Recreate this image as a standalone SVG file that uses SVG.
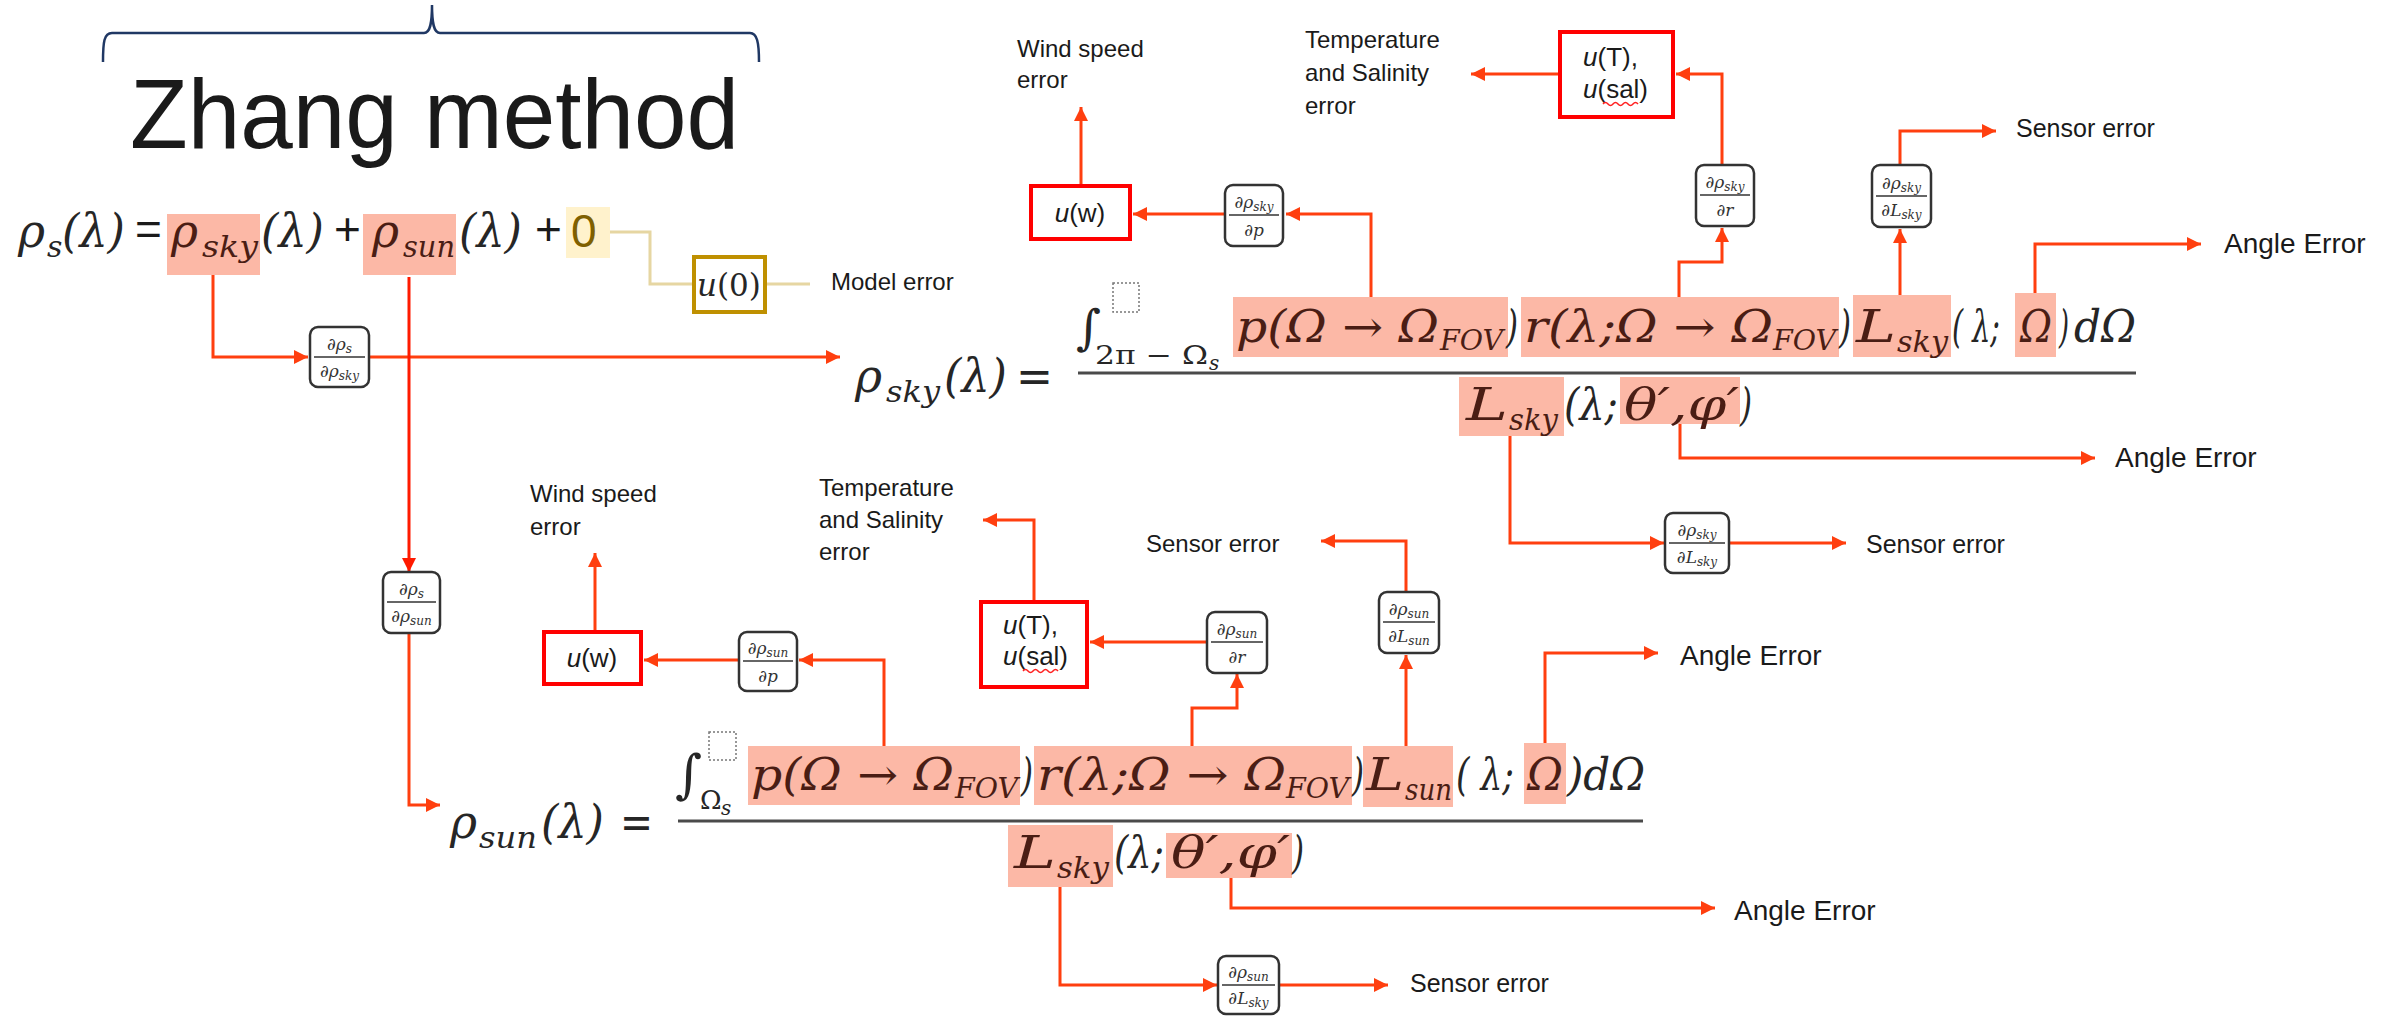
<svg xmlns="http://www.w3.org/2000/svg" width="2389" height="1016" viewBox="0 0 2389 1016">
<style>
.m{font-family:"DejaVu Serif",serif;font-style:italic;fill:#262626}
.u{font-style:normal}
.hx{fill:#4a1d14}
.lbl{font-family:"Liberation Sans",Arial,sans-serif;fill:#1a1a1a}
.hl{fill:#FCB8A6}
.c{fill:none;stroke:#FF3F0F;stroke-width:3;marker-end:url(#a)}
.cr{fill:none;stroke:#FF1A00;stroke-width:3;marker-end:url(#ar)}
.box{fill:#fff;stroke:#333;stroke-width:2.5}
.rb{fill:#fff;stroke:#FF0000;stroke-width:4}
.d{font-family:"DejaVu Serif",serif;font-style:italic;font-size:17px;fill:#333;text-anchor:middle}
.fl{stroke:#333;stroke-width:1.5}
.frac{stroke:#4a4a4a;stroke-width:3}
.dot{fill:none;stroke:#777;stroke-width:1.5;stroke-dasharray:2 2}
.sq{fill:none;stroke:#FF2020;stroke-width:1.5}
</style>
<defs>
<marker id="a" viewBox="0 0 10 10" refX="10" refY="5" markerUnits="userSpaceOnUse" markerWidth="14" markerHeight="14" orient="auto"><path d="M0,0 L10,5 L0,10 z" fill="#FF3F0F"/></marker>
<marker id="ar" viewBox="0 0 10 10" refX="10" refY="5" markerUnits="userSpaceOnUse" markerWidth="14" markerHeight="14" orient="auto"><path d="M0,0 L10,5 L0,10 z" fill="#FF1A00"/></marker>
</defs>
<rect width="2389" height="1016" fill="#fff"/>

<g id="title">
<path d="M103,62 C103,42 104,33 112,33 H424 C430,33 432,24 432,5 C432,24 434,33 440,33 H750 C757,33 759,42 759,62" fill="none" stroke="#203864" stroke-width="2.5"/>
<text class="lbl" x="130" y="148" font-size="98" textLength="609" lengthAdjust="spacingAndGlyphs">Zhang method</text>
</g>

<g id="highlights">
<rect class="hl" x="167" y="214" width="93" height="61"/>
<rect class="hl" x="363" y="214" width="93" height="61"/>
<rect x="566" y="207" width="44" height="51" fill="#FFF2CC"/>
<rect class="hl" x="1233" y="297" width="275" height="60"/>
<rect class="hl" x="1521" y="297" width="318" height="60"/>
<rect class="hl" x="1853" y="295" width="98" height="62"/>
<rect class="hl" x="2015" y="293" width="41" height="64"/>
<rect class="hl" x="1459" y="377" width="105" height="59"/>
<rect class="hl" x="1620" y="377" width="120" height="47"/>
<rect class="hl" x="748" y="746" width="272" height="59"/>
<rect class="hl" x="1034" y="746" width="318" height="59"/>
<rect class="hl" x="1363" y="746" width="90" height="61"/>
<rect class="hl" x="1524" y="743" width="42" height="61"/>
<rect class="hl" x="1008" y="825" width="105" height="62"/>
<rect class="hl" x="1166" y="833" width="126" height="45"/>
</g>

<g id="eq-main">
<text class="m" x="18" y="247" font-size="46">ρ</text>
<text class="m" x="47" y="257" font-size="30">s</text>
<text class="m" x="62" y="247" font-size="46" textLength="63" lengthAdjust="spacingAndGlyphs">(λ)</text>
<text class="lbl" x="135" y="245" font-size="46">=</text>
<text class="m hx" x="171" y="247" font-size="46">ρ</text>
<text class="m hx" x="202" y="257" font-size="30" textLength="56" lengthAdjust="spacingAndGlyphs">sky</text>
<text class="m" x="261" y="247" font-size="46" textLength="63" lengthAdjust="spacingAndGlyphs">(λ)</text>
<text class="lbl" x="334" y="245" font-size="46">+</text>
<text class="m hx" x="372" y="247" font-size="46">ρ</text>
<text class="m hx" x="403" y="257" font-size="30" textLength="52" lengthAdjust="spacingAndGlyphs">sun</text>
<text class="m" x="459" y="247" font-size="46" textLength="63" lengthAdjust="spacingAndGlyphs">(λ)</text>
<text class="lbl" x="535" y="245" font-size="46">+</text>
<text class="lbl" x="571" y="247" font-size="46" style="fill:#7F6000">0</text>
</g>

<g id="model-error">
<path d="M610,232 H650 V284 H694 M765,284 H810" fill="none" stroke="#E6D6A2" stroke-width="3"/>
<rect x="694" y="257" width="71" height="55" fill="#fff" stroke="#BF9000" stroke-width="4"/>
<text class="m" x="729" y="296" font-size="31" text-anchor="middle">u<tspan class="u">(0)</tspan></text>
<text class="lbl" x="831" y="290" font-size="24">Model error</text>
</g>

<g id="eq-sky">
<text class="m" x="855" y="392" font-size="46">ρ</text>
<text class="m" x="886" y="402" font-size="30" textLength="54" lengthAdjust="spacingAndGlyphs">sky</text>
<text class="m" x="944" y="392" font-size="46" textLength="63" lengthAdjust="spacingAndGlyphs">(λ)</text>
<text class="m u" x="1016" y="392" font-size="46" textLength="37" lengthAdjust="spacingAndGlyphs">=</text>
<text class="m u" x="1076" y="344" font-size="48">∫</text>
<rect class="dot" x="1113" y="283" width="26" height="29"/>
<text class="m u" x="1095" y="364" font-size="26" textLength="113" lengthAdjust="spacingAndGlyphs">2π − Ω</text>
<text class="m" x="1209" y="370" font-size="20">s</text>
<text class="m hx" x="1236" y="342" font-size="44" textLength="203" lengthAdjust="spacingAndGlyphs">p(Ω → Ω</text>
<text class="m hx" x="1440" y="350" font-size="28" textLength="63" lengthAdjust="spacingAndGlyphs">FOV</text>
<text class="m" x="1506" y="342" font-size="44" textLength="12" lengthAdjust="spacingAndGlyphs">)</text>
<text class="m hx" x="1524" y="342" font-size="44" textLength="249" lengthAdjust="spacingAndGlyphs">r(λ;Ω → Ω</text>
<text class="m hx" x="1773" y="350" font-size="28" textLength="63" lengthAdjust="spacingAndGlyphs">FOV</text>
<text class="m" x="1839" y="342" font-size="44" textLength="12" lengthAdjust="spacingAndGlyphs">)</text>
<text class="m hx" x="1856" y="342" font-size="44" textLength="40" lengthAdjust="spacingAndGlyphs">L</text>
<text class="m hx" x="1897" y="352" font-size="30" textLength="51" lengthAdjust="spacingAndGlyphs">sky</text>
<text class="m" x="1952" y="342" font-size="44" textLength="48" lengthAdjust="spacingAndGlyphs">( λ;</text>
<text class="m hx" x="2020" y="342" font-size="44" textLength="32" lengthAdjust="spacingAndGlyphs">Ω</text>
<text class="m" x="2059" y="342" font-size="44" textLength="10" lengthAdjust="spacingAndGlyphs">)</text>
<text class="m" x="2074" y="342" font-size="44" textLength="62" lengthAdjust="spacingAndGlyphs">dΩ</text>
<line class="frac" x1="1078" y1="373" x2="2136" y2="373"/>
<text class="m hx" x="1466" y="420" font-size="44" textLength="42" lengthAdjust="spacingAndGlyphs">L</text>
<text class="m hx" x="1509" y="430" font-size="30" textLength="49" lengthAdjust="spacingAndGlyphs">sky</text>
<text class="m" x="1564" y="420" font-size="44" textLength="54" lengthAdjust="spacingAndGlyphs">(λ;</text>
<text class="m hx" x="1624" y="420" font-size="44" textLength="115" lengthAdjust="spacingAndGlyphs">θ′,φ′</text>
<text class="m" x="1740" y="420" font-size="44" textLength="12" lengthAdjust="spacingAndGlyphs">)</text>
</g>

<g id="eq-sun">
<text class="m" x="450" y="838" font-size="46">ρ</text>
<text class="m" x="479" y="848" font-size="30" textLength="58" lengthAdjust="spacingAndGlyphs">sun</text>
<text class="m" x="541" y="838" font-size="46" textLength="63" lengthAdjust="spacingAndGlyphs">(λ)</text>
<text class="m u" x="620" y="838" font-size="46" textLength="33" lengthAdjust="spacingAndGlyphs">=</text>
<text class="m u" x="675" y="792" font-size="52">∫</text>
<rect class="dot" x="709" y="732" width="27" height="28"/>
<text class="m u" x="700" y="809" font-size="26">Ω</text>
<text class="m" x="721" y="815" font-size="20">s</text>
<text class="m hx" x="751" y="790" font-size="44" textLength="203" lengthAdjust="spacingAndGlyphs">p(Ω → Ω</text>
<text class="m hx" x="955" y="798" font-size="28" textLength="63" lengthAdjust="spacingAndGlyphs">FOV</text>
<text class="m" x="1021" y="790" font-size="44" textLength="12" lengthAdjust="spacingAndGlyphs">)</text>
<text class="m hx" x="1037" y="790" font-size="44" textLength="249" lengthAdjust="spacingAndGlyphs">r(λ;Ω → Ω</text>
<text class="m hx" x="1286" y="798" font-size="28" textLength="63" lengthAdjust="spacingAndGlyphs">FOV</text>
<text class="m" x="1352" y="790" font-size="44" textLength="12" lengthAdjust="spacingAndGlyphs">)</text>
<text class="m hx" x="1366" y="790" font-size="44" textLength="38" lengthAdjust="spacingAndGlyphs">L</text>
<text class="m hx" x="1405" y="800" font-size="30" textLength="47" lengthAdjust="spacingAndGlyphs">sun</text>
<text class="m" x="1456" y="790" font-size="44" textLength="58" lengthAdjust="spacingAndGlyphs">( λ;</text>
<text class="m hx" x="1527" y="790" font-size="44" textLength="36" lengthAdjust="spacingAndGlyphs">Ω</text>
<text class="m" x="1567" y="790" font-size="44" textLength="78" lengthAdjust="spacingAndGlyphs">)dΩ</text>
<line class="frac" x1="678" y1="821" x2="1643" y2="821"/>
<text class="m hx" x="1014" y="868" font-size="44" textLength="42" lengthAdjust="spacingAndGlyphs">L</text>
<text class="m hx" x="1057" y="878" font-size="30" textLength="52" lengthAdjust="spacingAndGlyphs">sky</text>
<text class="m" x="1114" y="868" font-size="44" textLength="50" lengthAdjust="spacingAndGlyphs">(λ;</text>
<text class="m hx" x="1171" y="868" font-size="44" textLength="119" lengthAdjust="spacingAndGlyphs">θ′,φ′</text>
<text class="m" x="1292" y="868" font-size="44" textLength="12" lengthAdjust="spacingAndGlyphs">)</text>
</g>

<g id="connectors">
<path class="c" d="M213,275 V357 H308"/>
<path class="c" d="M369,357 H840"/>
<path class="cr" d="M409,277 V572"/>
<path class="c" d="M409,633 V805 H440"/>
<path class="c" d="M1371,297 V214 H1286"/>
<path class="c" d="M1225,214 H1133"/>
<path class="c" d="M1081,186 V107"/>
<path class="c" d="M1679,297 V262 H1722 V228"/>
<path class="c" d="M1722,165 V74 H1676"/>
<path class="c" d="M1560,74 H1471"/>
<path class="c" d="M1900,295 V229"/>
<path class="c" d="M1900,165 V131 H1996"/>
<path class="c" d="M2035,293 V244 H2201"/>
<path class="c" d="M1510,436 V543 H1664"/>
<path class="c" d="M1729,543 H1846"/>
<path class="c" d="M1680,424 V458 H2095"/>
<path class="c" d="M884,746 V660 H799"/>
<path class="c" d="M739,660 H644"/>
<path class="c" d="M595,632 V553"/>
<path class="c" d="M1192,746 V708 H1237 V674"/>
<path class="c" d="M1207,642 H1090"/>
<path class="c" d="M1034,602 V520 H983"/>
<path class="c" d="M1406,746 V655"/>
<path class="c" d="M1406,592 V541 H1321"/>
<path class="c" d="M1545,743 V653 H1658"/>
<path class="c" d="M1060,887 V985 H1217"/>
<path class="c" d="M1279,985 H1388"/>
<path class="c" d="M1231,878 V908 H1715"/>
</g>

<g id="d-s-sky">
<rect class="box" x="310" y="327" width="59" height="60" rx="8"/>
<line class="fl" x1="314" y1="357" x2="365" y2="357"/>
<text class="d" x="339.5" y="350">∂ρ<tspan font-size="12" dy="3">s</tspan></text>
<text class="d" x="339.5" y="377">∂ρ<tspan font-size="12" dy="3">sky</tspan></text>
</g>
<g id="d-s-sun">
<rect class="box" x="383" y="572" width="57" height="61" rx="8"/>
<line class="fl" x1="387" y1="602" x2="436" y2="602"/>
<text class="d" x="411.5" y="595">∂ρ<tspan font-size="12" dy="3">s</tspan></text>
<text class="d" x="411.5" y="622">∂ρ<tspan font-size="12" dy="3">sun</tspan></text>
</g>
<g id="d-sky-p">
<rect class="box" x="1225" y="185" width="58" height="61" rx="8"/>
<line class="fl" x1="1229" y1="215" x2="1279" y2="215"/>
<text class="d" x="1254" y="208">∂ρ<tspan font-size="12" dy="3">sky</tspan></text>
<text class="d" x="1254" y="236">∂p</text>
</g>
<g id="d-sky-r">
<rect class="box" x="1696" y="165" width="58" height="61" rx="8"/>
<line class="fl" x1="1700" y1="195" x2="1750" y2="195"/>
<text class="d" x="1725" y="188">∂ρ<tspan font-size="12" dy="3">sky</tspan></text>
<text class="d" x="1725" y="216">∂r</text>
</g>
<g id="d-sky-lsky-1">
<rect class="box" x="1872" y="165" width="59" height="62" rx="8"/>
<line class="fl" x1="1876" y1="196" x2="1927" y2="196"/>
<text class="d" x="1901.5" y="189">∂ρ<tspan font-size="12" dy="3">sky</tspan></text>
<text class="d" x="1901.5" y="216">∂L<tspan font-size="12" dy="3">sky</tspan></text>
</g>
<g id="d-sky-lsky-2">
<rect class="box" x="1665" y="513" width="64" height="60" rx="8"/>
<line class="fl" x1="1669" y1="543" x2="1725" y2="543"/>
<text class="d" x="1697" y="536">∂ρ<tspan font-size="12" dy="3">sky</tspan></text>
<text class="d" x="1697" y="563">∂L<tspan font-size="12" dy="3">sky</tspan></text>
</g>
<g id="d-sun-p">
<rect class="box" x="739" y="632" width="58" height="59" rx="8"/>
<line class="fl" x1="743" y1="661" x2="793" y2="661"/>
<text class="d" x="768" y="654">∂ρ<tspan font-size="12" dy="3">sun</tspan></text>
<text class="d" x="768" y="682">∂p</text>
</g>
<g id="d-sun-r">
<rect class="box" x="1207" y="612" width="60" height="61" rx="8"/>
<line class="fl" x1="1211" y1="642" x2="1263" y2="642"/>
<text class="d" x="1237" y="635">∂ρ<tspan font-size="12" dy="3">sun</tspan></text>
<text class="d" x="1237" y="663">∂r</text>
</g>
<g id="d-sun-lsun">
<rect class="box" x="1379" y="592" width="60" height="61" rx="8"/>
<line class="fl" x1="1383" y1="622" x2="1435" y2="622"/>
<text class="d" x="1409" y="615">∂ρ<tspan font-size="12" dy="3">sun</tspan></text>
<text class="d" x="1409" y="642">∂L<tspan font-size="12" dy="3">sun</tspan></text>
</g>
<g id="d-sun-lsky">
<rect class="box" x="1218" y="956" width="61" height="58" rx="8"/>
<line class="fl" x1="1222" y1="985" x2="1275" y2="985"/>
<text class="d" x="1248.5" y="978">∂ρ<tspan font-size="12" dy="3">sun</tspan></text>
<text class="d" x="1248.5" y="1004">∂L<tspan font-size="12" dy="3">sky</tspan></text>
</g>

<g id="uw-sky">
<rect class="rb" x="1031" y="186" width="99" height="53"/>
<text class="lbl" x="1080" y="222" font-size="26" text-anchor="middle"><tspan font-style="italic">u</tspan>(w)</text>
</g>
<g id="uts-sky">
<rect class="rb" x="1560" y="32" width="113" height="85"/>
<text class="lbl" x="1583" y="66" font-size="26"><tspan font-style="italic">u</tspan>(T),</text>
<text class="lbl" x="1583" y="98" font-size="26"><tspan font-style="italic">u</tspan>(sal)</text>
<path class="sq" d="M1603,104 q2.5,-3 5,0 t5,0 t5,0 t5,0 t5,0 t5,0 t5,0"/>
</g>
<g id="uw-sun">
<rect class="rb" x="544" y="632" width="97" height="52"/>
<text class="lbl" x="592" y="667" font-size="26" text-anchor="middle"><tspan font-style="italic">u</tspan>(w)</text>
</g>
<g id="uts-sun">
<rect class="rb" x="981" y="602" width="106" height="85"/>
<text class="lbl" x="1003" y="634" font-size="26"><tspan font-style="italic">u</tspan>(T),</text>
<text class="lbl" x="1003" y="665" font-size="26"><tspan font-style="italic">u</tspan>(sal)</text>
<path class="sq" d="M1023,671 q2.5,-3 5,0 t5,0 t5,0 t5,0 t5,0 t5,0 t5,0"/>
</g>

<g id="labels">
<text class="lbl" x="1017" y="57" font-size="24">Wind speed</text>
<text class="lbl" x="1017" y="88" font-size="24">error</text>
<text class="lbl" x="1305" y="48" font-size="24">Temperature</text>
<text class="lbl" x="1305" y="81" font-size="24">and Salinity</text>
<text class="lbl" x="1305" y="114" font-size="24">error</text>
<text class="lbl" x="2016" y="137" font-size="25">Sensor error</text>
<text class="lbl" x="2224" y="253" font-size="28">Angle Error</text>
<text class="lbl" x="2115" y="467" font-size="28">Angle Error</text>
<text class="lbl" x="1866" y="553" font-size="25">Sensor error</text>
<text class="lbl" x="530" y="502" font-size="24">Wind speed</text>
<text class="lbl" x="530" y="535" font-size="24">error</text>
<text class="lbl" x="819" y="496" font-size="24">Temperature</text>
<text class="lbl" x="819" y="528" font-size="24">and Salinity</text>
<text class="lbl" x="819" y="560" font-size="24">error</text>
<text class="lbl" x="1146" y="552" font-size="24">Sensor error</text>
<text class="lbl" x="1680" y="665" font-size="28">Angle Error</text>
<text class="lbl" x="1734" y="920" font-size="28">Angle Error</text>
<text class="lbl" x="1410" y="992" font-size="25">Sensor error</text>
</g>
</svg>
